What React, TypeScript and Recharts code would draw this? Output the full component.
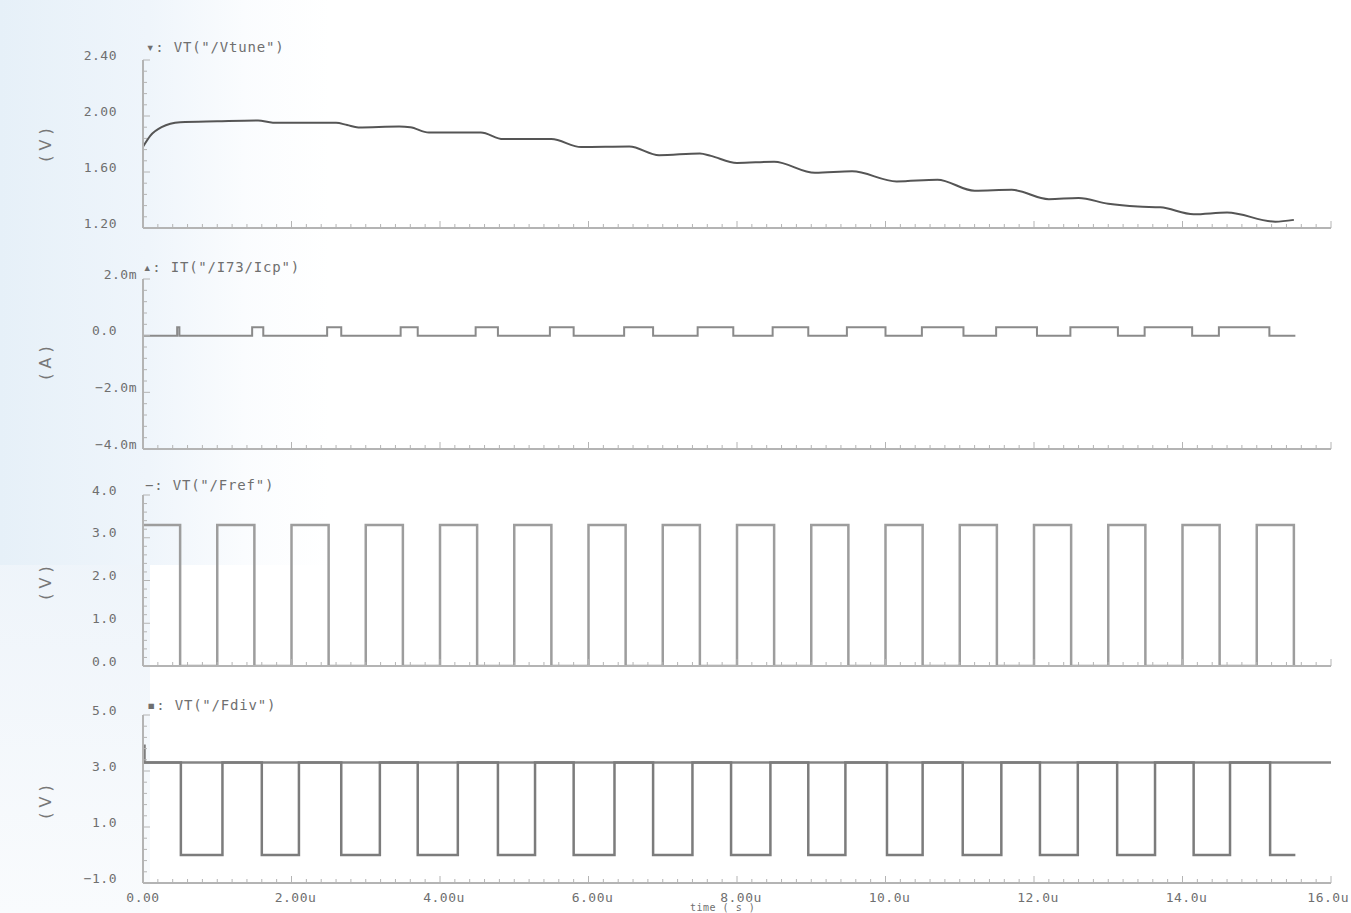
import { LineChart, Line, XAxis, YAxis, ReferenceLine } from "recharts";

// time axis (µs)
const xMajor = [0, 2, 4, 6, 8, 10, 12, 14, 16];
const xLabels = ["0.00", "2.00u", "4.00u", "6.00u", "8.00u", "10.0u", "12.0u", "14.0u", "16.0u"];

// VT("/Vtune")
const vtuneT = [0, 0.1, 0.25, 0.5, 1.0, 1.55, 1.75, 2.6, 2.75, 2.9, 3.45, 3.6, 3.85, 4.55, 4.85, 5.5, 5.9, 6.55, 6.95, 7.5, 7.65, 8.0, 8.5, 9.05, 9.55, 10.15, 10.7, 11.2, 11.7, 12.2, 12.6, 13.0, 13.4, 13.7, 14.15, 14.6, 15.25, 15.5];
const vtuneV = [1.78, 1.86, 1.92, 1.955, 1.962, 1.968, 1.952, 1.952, 1.935, 1.918, 1.925, 1.92, 1.882, 1.882, 1.835, 1.835, 1.778, 1.782, 1.72, 1.733, 1.715, 1.665, 1.673, 1.594, 1.605, 1.533, 1.545, 1.466, 1.473, 1.406, 1.414, 1.373, 1.353, 1.348, 1.298, 1.31, 1.245, 1.258];

// IT("/I73/Icp") in mA
const icpRise = [0.46, 1.47, 2.48, 3.47, 4.48, 5.48, 6.48, 7.47, 8.48, 9.48, 10.49, 11.49, 12.49, 13.49, 14.49];
const icpFall = [0.49, 1.62, 2.67, 3.7, 4.78, 5.8, 6.87, 7.95, 8.96, 10.0, 11.05, 12.04, 13.13, 14.13, 15.17];
const icpHigh = 0.3;

// VT("/Fref")
const frefRise = [0, 1, 2, 3, 4, 5, 6, 7, 8, 9, 10, 11, 12, 13, 14, 15];
const frefFall = [0.5, 1.5, 2.5, 3.5, 4.5, 5.5, 6.5, 7.5, 8.5, 9.5, 10.5, 11.5, 12.5, 13.5, 14.5, 15.5];
const frefHigh = 3.3;

// VT("/Fdiv")
const fdivFall = [0.51, 1.6, 2.67, 3.7, 4.78, 5.8, 6.87, 7.92, 8.96, 10.02, 11.04, 12.08, 13.12, 14.15, 15.18];
const fdivRise = [1.07, 2.1, 3.19, 4.24, 5.28, 6.35, 7.4, 8.45, 9.46, 10.5, 11.56, 12.59, 13.63, 14.64];
const fdivHigh = 3.3;
const fdivStart = 3.9;

const traceEnd = 15.52;

function stepSeries(startLevel: number, edges: [number, number][], end: number) {
  const pts = [{ t: 0, v: startLevel }];
  let level = startLevel;
  [...edges].sort((a, b) => a[0] - b[0]).forEach(([t, v]) => {
    pts.push({ t, v: level });
    pts.push({ t, v });
    level = v;
  });
  pts.push({ t: end, v: level });
  return pts;
}

const vtuneData = vtuneT.map((t, i) => ({ t, v: vtuneV[i] }));
const icpData = stepSeries(0, [
  ...icpRise.map((t) => [t, icpHigh] as [number, number]),
  ...icpFall.map((t) => [t, 0] as [number, number]),
], traceEnd);
const frefData = stepSeries(frefHigh, [
  ...frefRise.slice(1).map((t) => [t, frefHigh] as [number, number]),
  ...frefFall.map((t) => [t, 0] as [number, number]),
], traceEnd);
const fdivData = stepSeries(fdivStart, [
  [0.02, fdivHigh],
  ...fdivFall.map((t) => [t, 0] as [number, number]),
  ...fdivRise.map((t) => [t, fdivHigh] as [number, number]),
], traceEnd);

const xTicks = Array.from({ length: 81 }, (_, i) => +(i * 0.2).toFixed(2));
const range = (a: number, b: number, step: number) =>
  Array.from({ length: Math.round((b - a) / step) + 1 }, (_, i) => +(a + i * step).toFixed(3));

const FONT = "'DejaVu Sans Mono', monospace";
const TXT = "#6f6f6f";
const AXIS = "#b4b4b4";
const PAD = 24; // svg space above each plot, keeps the top tick label inside

const near = (list: number[], v: number) => list.findIndex((m) => Math.abs(m - v) < 1e-6);

const makeXTick = (showLabels: boolean) => (props: any) => {
  const { x, y, payload } = props;
  const idx = near(xMajor, payload.value);
  const last = idx === xMajor.length - 1;
  return (
    <g>
      <line x1={x} x2={x} y1={y} y2={y - (idx >= 0 ? 7 : 4)} stroke={AXIS} />
      {showLabels && idx >= 0 && (
        <text x={last ? 1349 : x + (xLabels[idx].endsWith("u") ? 4 : 0)} y={y + 14}
          textAnchor={last ? "end" : "middle"} dominantBaseline="central"
          fontFamily={FONT} fontSize={13} fill={TXT} letterSpacing={0.5}>
          {xLabels[idx]}
        </text>
      )}
    </g>
  );
};

const makeYTick = (major: number[], labels: string[]) => (props: any) => {
  const { x, y, payload } = props;
  const idx = near(major, payload.value);
  const lab = idx >= 0 ? labels[idx] : "";
  return (
    <g>
      <line x1={x} x2={x + (idx >= 0 ? 7 : 4)} y1={y} y2={y} stroke={AXIS} />
      {idx >= 0 && (
        <text x={lab.endsWith("m") ? x - 6 : x - 26} y={y - 5} textAnchor="end" dominantBaseline="central"
          fontFamily={FONT} fontSize={13} fill={TXT} letterSpacing={0.5}>
          {lab}
        </text>
      )}
    </g>
  );
};

type PanelProps = {
  top: number;
  bottom: number;
  data: { t: number; v: number }[];
  domain: [number, number];
  yMajor: number[];
  yLabels: string[];
  yStep: number;
  stroke: string;
  strokeWidth: number;
  curve: "linear" | "monotone";
  showX?: boolean;
  refY?: number;
};

function Panel(p: PanelProps) {
  const h = p.bottom - p.top + PAD + 30;
  return (
    <div style={{ position: "absolute", left: 0, top: p.top - PAD }}>
      <LineChart width={1351} height={h} data={p.data} margin={{ top: PAD, right: 20, bottom: 0, left: 0 }}>
        <XAxis dataKey="t" type="number" domain={[0, 16]} ticks={xTicks} interval={0} height={30}
          allowDataOverflow tickSize={0} tickMargin={0} axisLine={{ stroke: AXIS, strokeWidth: 2 }}
          tickLine={false} tick={makeXTick(!!p.showX)} />
        <YAxis type="number" domain={p.domain} ticks={range(p.domain[0], p.domain[1], p.yStep)} interval={0}
          width={143} allowDataOverflow tickSize={0} tickMargin={0} axisLine={{ stroke: AXIS, strokeWidth: 2 }}
          tickLine={false} tick={makeYTick(p.yMajor, p.yLabels)} />
        {p.refY !== undefined && <ReferenceLine y={p.refY} stroke="#858585" strokeWidth={2.5} />}
        <Line dataKey="v" type={p.curve} stroke={p.stroke} strokeWidth={p.strokeWidth} dot={false}
          isAnimationActive={false} />
      </LineChart>
    </div>
  );
}

const titleStyle: React.CSSProperties = {
  position: "absolute",
  fontFamily: FONT,
  fontSize: 14,
  letterSpacing: 0.8,
  color: TXT,
  whiteSpace: "nowrap",
  lineHeight: "16px",
};

function Unit({ text, cy }: { text: string; cy: number }) {
  return (
    <div style={{
      position: "absolute", left: 45, top: cy, transform: "translate(-50%, -50%) rotate(-90deg)",
      fontFamily: "'DejaVu Sans', sans-serif", fontSize: 16, color: "#777", whiteSpace: "pre",
    }}>{text}</div>
  );
}

export default function App() {
  return (
    <div style={{ position: "fixed", left: 0, top: 0, width: 1351, height: 913, overflow: "hidden", background: "#fff" }}>
      <div style={{ position: "absolute", left: 0, top: 0, width: 150, height: 913,
        background: "linear-gradient(to bottom, #e6f0f8 0%, #eef4fa 60%, #f9fbfd 100%)" }} />
      <div style={{ position: "absolute", left: 0, top: 0, width: 330, height: 565,
        background: "linear-gradient(to right, #e6f0f8 0%, #eff5fb 45%, rgba(250,252,254,0.9) 75%, rgba(255,255,255,0) 100%)" }} />

      <Panel top={60} bottom={228} data={vtuneData} domain={[1.2, 2.4]} yMajor={[1.2, 1.6, 2.0, 2.4]}
        yLabels={["1.20", "1.60", "2.00", "2.40"]} yStep={0.08} stroke="#555" strokeWidth={2} curve="monotone" />
      <Panel top={279} bottom={449} data={icpData} domain={[-4, 2]} yMajor={[-4, -2, 0, 2]}
        yLabels={["−4.0m", "−2.0m", "0.0", "2.0m"]} yStep={0.4} stroke="#8a8a8a" strokeWidth={2} curve="linear" />
      <Panel top={495} bottom={666} data={frefData} domain={[0, 4]} yMajor={[0, 1, 2, 3, 4]}
        yLabels={["0.0", "1.0", "2.0", "3.0", "4.0"]} yStep={0.2} stroke="#9d9d9d" strokeWidth={2.5} curve="linear" />
      <Panel top={715} bottom={883} data={fdivData} domain={[-1, 5]} yMajor={[-1, 1, 3, 5]}
        yLabels={["−1.0", "1.0", "3.0", "5.0"]} yStep={0.4} stroke="#7c7c7c" strokeWidth={2.5} curve="linear"
        showX refY={fdivHigh} />

      <div style={{ ...titleStyle, left: 146, top: 39 }}>▾: VT("/Vtune")</div>
      <div style={{ ...titleStyle, left: 143, top: 259 }}>▴: IT("/I73/Icp")</div>
      <div style={{ ...titleStyle, left: 145, top: 477 }}>−: VT("/Fref")</div>
      <div style={{ ...titleStyle, left: 147, top: 697 }}>▪: VT("/Fdiv")</div>

      <Unit text="( V )" cy={145} />
      <Unit text="( A )" cy={363} />
      <Unit text="( V )" cy={583} />
      <Unit text="( V )" cy={802} />

      <div style={{ ...titleStyle, left: 690, top: 902, fontSize: 10, lineHeight: "11px", letterSpacing: 0.5 }}>time ( s )</div>
    </div>
  );
}
